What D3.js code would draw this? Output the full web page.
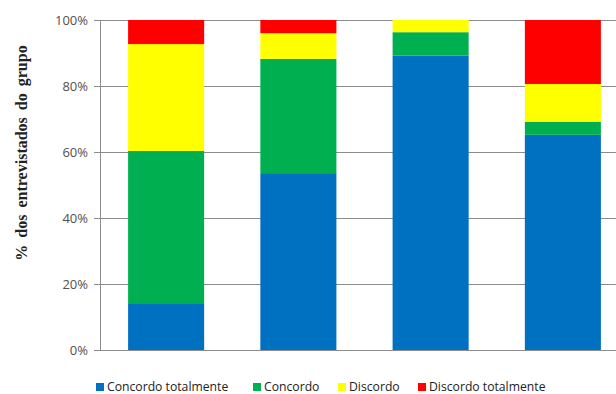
<!DOCTYPE html>
<html>
<head>
<meta charset="utf-8">
<script src="https://cdn.jsdelivr.net/npm/d3@7"></script>
<style>
  body { margin: 0; background: #fff; }
  svg { display: block; }
</style>
</head>
<body>
<script>
// values (% of group)
var groups = ["G1", "G2", "G3", "G4"];
var series = ["Concordo totalmente", "Concordo", "Discordo", "Discordo totalmente"];
var concordoTot = [14.2, 53.6, 89.2, 65.2];
var concordo = [46.1, 34.6, 7.1, 3.9];
var discordo = [32.4, 7.8, 3.7, 11.5];
var discordoTot = [7.3, 4.0, 0, 19.4];
var yTicks = [0, 20, 40, 60, 80, 100];
var colors = ["#0070C0", "#00B050", "#FFFF00", "#FF0000"];

var width = 616, height = 394;

var svg = d3.select("body").append("svg")
    .attr("width", width)
    .attr("height", height);

var rows = groups.map(function(g, i) {
  return {
    g: g,
    "Concordo totalmente": concordoTot[i],
    "Concordo": concordo[i],
    "Discordo": discordo[i],
    "Discordo totalmente": discordoTot[i]
  };
});

var stack = d3.stack().keys(series)(rows);

var x = d3.scaleBand()
    .domain(groups)
    .range([100, 629])
    .paddingInner(0.425)
    .paddingOuter(0.2125);

var y = d3.scaleLinear()
    .domain([0, 100])
    .range([350, 20]);

// gridlines + tick marks
svg.append("g")
    .attr("transform", "translate(100,0)")
    .call(d3.axisLeft(y).tickValues(yTicks).tickSize(-(width - 100)).tickFormat(""))
    .call(function(g) {
      g.select(".domain").remove();
      g.selectAll("line").attr("stroke", "#8c8c8c").attr("x1", -6).attr("shape-rendering", "crispEdges");
    });

// tick labels
svg.append("g")
    .selectAll("text")
    .data(yTicks)
    .enter().append("text")
    .attr("x", 88)
    .attr("y", function(d) { return y(d); })
    .attr("dy", "0.35em")
    .attr("text-anchor", "end")
    .attr("font-family", "'Open Sans', sans-serif")
    .attr("font-size", 13)
    .attr("fill", "#505050")
    .text(function(d) { return d + "%"; });

// bars
svg.append("g")
    .selectAll("g")
    .data(stack)
    .enter().append("g")
    .attr("fill", function(d, i) { return colors[i]; })
    .selectAll("rect")
    .data(function(d) { return d; })
    .enter().append("rect")
    .attr("x", function(d) { return x(d.data.g); })
    .attr("width", x.bandwidth())
    .attr("y", function(d) { return y(d[1]); })
    .attr("height", function(d) { return y(d[0]) - y(d[1]); });

// y axis line
svg.append("line")
    .attr("x1", 100).attr("x2", 100)
    .attr("y1", 20).attr("y2", 350)
    .attr("stroke", "#8c8c8c")
    .attr("shape-rendering", "crispEdges");

// y label
svg.append("text")
    .attr("transform", "translate(27,153) rotate(-90)")
    .attr("text-anchor", "middle")
    .attr("font-family", "'Liberation Serif', serif")
    .attr("font-weight", "bold")
    .attr("font-size", 16)
    .attr("word-spacing", 3)
    .attr("fill", "#222")
    .text("% dos entrevistados do grupo");

// legend
var legX = [96, 253, 338, 418];
var leg = svg.append("g").selectAll("g")
    .data(series)
    .enter().append("g")
    .attr("transform", function(d, i) { return "translate(" + legX[i] + ",383)"; });
leg.append("rect")
    .attr("width", 8).attr("height", 8)
    .attr("fill", function(d, i) { return colors[i]; });
leg.append("text")
    .attr("x", 11)
    .attr("y", 4)
    .attr("dy", "0.36em")
    .attr("font-family", "'Open Sans', sans-serif")
    .attr("font-size", 12.2)
    .attr("fill", "#222")
    .text(function(d) { return d; });
</script>
</body>
</html>
